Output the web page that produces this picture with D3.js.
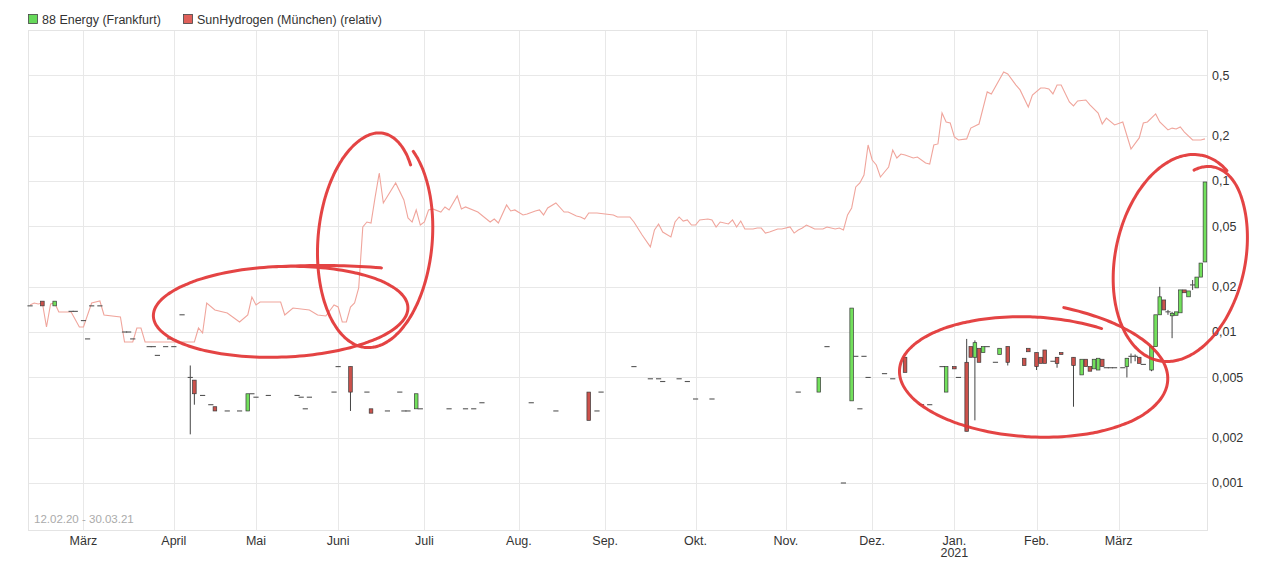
<!DOCTYPE html>
<html><head><meta charset="utf-8">
<script src="https://cdn.jsdelivr.net/npm/d3@7"></script>
<style>
body{margin:0;background:#fff}
svg{display:block}
text{font-family:"Liberation Sans",Arial,sans-serif}
</style>
</head><body>
<svg id="c" width="1280" height="563"></svg>
<script>
// ---------------- DATA ----------------
const seriesNames = ["88 Energy (Frankfurt)", "SunHydrogen (München) (relativ)"];
const rangeLabel = "12.02.20 - 30.03.21";
const startDate = "2020-02-12", endDate = "2021-03-30";
const holidays = ["2020-04-10","2020-04-13","2020-05-01","2020-06-01","2020-12-24","2020-12-25","2020-12-31","2021-01-01"];
const monthNames = ["Jan.","Feb.","März","April","Mai","Juni","Juli","Aug.","Sep.","Okt.","Nov.","Dez."];
const yTicks = [0.001, 0.002, 0.005, 0.01, 0.02, 0.05, 0.1, 0.2, 0.5];

// SunHydrogen (relative) closing line
const sunRelative = [
["2020-02-12",0.01509],["2020-02-13",0.01556],["2020-02-14",0.01532],["2020-02-17",0.01556],["2020-02-18",0.01079],
["2020-02-19",0.01532],["2020-02-20",0.01556],["2020-02-21",0.01357],["2020-02-26",0.01357],["2020-02-28",0.01079],
["2020-03-02",0.01079],["2020-03-04",0.01556],["2020-03-06",0.01604],["2020-03-09",0.01296],["2020-03-13",0.01257],
["2020-03-16",0.00859],["2020-03-18",0.00859],["2020-03-19",0.01063],["2020-03-20",0.01063],["2020-03-23",0.00859],
["2020-03-27",0.00859],["2020-04-02",0.00859],["2020-04-08",0.00859],["2020-04-09",0.01063],["2020-04-14",0.00985],
["2020-04-15",0.01556],["2020-04-17",0.01398],["2020-04-22",0.01336],["2020-04-27",0.01165],["2020-04-29",0.01296],
["2020-04-30",0.01705],["2020-05-04",0.01509],["2020-05-05",0.0158],["2020-05-12",0.0158],["2020-05-13",0.01296],
["2020-05-15",0.01442],["2020-05-21",0.01398],["2020-05-25",0.01296],["2020-05-27",0.01276],["2020-05-29",0.01509],
["2020-06-02",0.01464],["2020-06-03",0.01165],["2020-06-04",0.01165],["2020-06-05",0.01464],["2020-06-08",0.01556],
["2020-06-09",0.01956],["2020-06-10",0.0496],["2020-06-11",0.0535],["2020-06-12",0.0527],["2020-06-15",0.0783],
["2020-06-16",0.1130],["2020-06-17",0.0715],["2020-06-22",0.0970],["2020-06-24",0.0749],["2020-06-25",0.0569],
["2020-06-26",0.0535],["2020-06-29",0.0643],["2020-06-30",0.0511],["2020-07-01",0.0535],["2020-07-02",0.0643],
["2020-07-03",0.0653],["2020-07-07",0.0623],["2020-07-08",0.0673],["2020-07-09",0.0643],["2020-07-13",0.0796],
["2020-07-14",0.0653],["2020-07-15",0.0673],["2020-07-20",0.0623],["2020-07-23",0.0535],["2020-07-24",0.0560],
["2020-07-27",0.0527],["2020-07-29",0.0694],["2020-07-30",0.0633],["2020-07-31",0.0643],["2020-08-04",0.0596],
["2020-08-05",0.0605],["2020-08-07",0.0633],["2020-08-10",0.0643],["2020-08-11",0.0596],["2020-08-12",0.0663],
["2020-08-14",0.0715],["2020-08-18",0.0623],["2020-08-19",0.0623],["2020-08-21",0.0586],["2020-08-24",0.0578],
["2020-08-25",0.0560],["2020-08-26",0.0614],["2020-08-27",0.0614],["2020-08-28",0.0614],["2020-09-01",0.0605],
["2020-09-03",0.0596],["2020-09-04",0.0578],["2020-09-08",0.0578],["2020-09-09",0.0578],["2020-09-10",0.0535],
["2020-09-14",0.0439],["2020-09-16",0.0366],["2020-09-17",0.0474],["2020-09-18",0.0519],["2020-09-21",0.0459],
["2020-09-23",0.0426],["2020-09-24",0.0535],["2020-09-25",0.0578],["2020-09-28",0.0543],["2020-09-29",0.0552],
["2020-09-30",0.0511],["2020-10-01",0.0511],["2020-10-02",0.0552],["2020-10-06",0.0560],["2020-10-07",0.0552],
["2020-10-08",0.0496],["2020-10-09",0.0535],["2020-10-13",0.0519],["2020-10-14",0.0552],["2020-10-15",0.0496],
["2020-10-16",0.0543],["2020-10-19",0.0481],["2020-10-21",0.0481],["2020-10-22",0.0488],["2020-10-23",0.0488],
["2020-10-26",0.0452],["2020-10-27",0.0459],["2020-10-29",0.0481],["2020-10-30",0.0481],["2020-11-03",0.0496],
["2020-11-04",0.0452],["2020-11-05",0.0474],["2020-11-06",0.0488],["2020-11-09",0.0511],["2020-11-10",0.0496],
["2020-11-11",0.0481],["2020-11-13",0.0481],["2020-11-16",0.0496],["2020-11-18",0.0481],["2020-11-19",0.0488],
["2020-11-20",0.0474],["2020-11-23",0.0596],["2020-11-24",0.0663],["2020-11-25",0.0913],["2020-11-26",0.0970],
["2020-11-27",0.1096],["2020-11-30",0.1731],["2020-12-01",0.1378],["2020-12-02",0.1276],["2020-12-03",0.1063],
["2020-12-04",0.1147],["2020-12-07",0.1238],["2020-12-08",0.1604],["2020-12-09",0.1420],["2020-12-10",0.1509],
["2020-12-11",0.1487],["2020-12-15",0.1420],["2020-12-16",0.1442],["2020-12-18",0.1316],["2020-12-21",0.1296],
["2020-12-22",0.1731],["2020-12-23",0.176],["2020-12-28",0.282],["2020-12-29",0.246],["2020-12-30",0.242],
["2021-01-04",0.196],["2021-01-05",0.187],["2021-01-07",0.190],["2021-01-08",0.224],["2021-01-12",0.2385],
["2021-01-14",0.389],["2021-01-15",0.377],["2021-01-20",0.527],["2021-01-21",0.511],["2021-01-25",0.432],
["2021-01-26",0.401],["2021-01-28",0.309],["2021-01-29",0.371],["2021-02-02",0.413],["2021-02-03",0.413],
["2021-02-04",0.407],["2021-02-05",0.377],["2021-02-08",0.432],["2021-02-09",0.432],["2021-02-11",0.334],
["2021-02-12",0.314],["2021-02-15",0.339],["2021-02-17",0.344],["2021-02-18",0.319],["2021-02-22",0.282],
["2021-02-23",0.2385],["2021-02-24",0.261],["2021-02-26",0.235],["2021-03-02",0.246],["2021-03-04",0.163],
["2021-03-08",0.193],["2021-03-09",0.242],["2021-03-10",0.246],["2021-03-12",0.278],["2021-03-15",0.246],
["2021-03-17",0.218],["2021-03-18",0.224],["2021-03-19",0.221],["2021-03-22",0.228],["2021-03-23",0.211],
["2021-03-25",0.187],["2021-03-29",0.187],["2021-03-30",0.190]
];

// 88 Energy candles: date, open, high, low, close (null high/low = no wick)
const energyOHLC = [
["2020-02-12",0.0149,null,null,0.0149],["2020-02-17",0.0160,null,null,0.0149],["2020-02-20",0.0149,null,null,0.0160],
["2020-02-26",0.0137,null,null,0.0137],["2020-02-27",0.0137,null,null,0.0137],["2020-03-02",0.0119,null,null,0.0119],
["2020-03-03",0.0090,null,null,0.0090],["2020-03-04",0.0149,null,null,0.0149],["2020-03-06",0.0149,null,null,0.0149],
["2020-03-16",0.0100,null,null,0.0100],["2020-03-17",0.0100,null,null,0.0100],["2020-03-18",0.0090,null,null,0.0090],
["2020-03-24",0.0080,null,null,0.0080],["2020-03-25",0.0080,null,null,0.0080],["2020-03-26",0.0070,null,null,0.0070],
["2020-03-30",0.0080,null,null,0.0080],["2020-03-31",0.0090,null,null,0.0090],["2020-04-01",0.0080,null,null,0.0080],
["2020-04-03",0.0130,null,null,0.0130],["2020-04-07",0.0050,0.0060,0.0021,0.0050],["2020-04-08",0.0048,null,0.0033,0.0039],
["2020-04-14",0.0038,null,null,0.0038],["2020-04-16",0.0033,null,null,0.0033],["2020-04-17",0.0032,null,null,0.0030],
["2020-04-22",0.0030,null,null,0.0030],["2020-04-27",0.0030,null,null,0.0030],["2020-04-29",0.0030,null,null,0.0039],
["2020-04-30",0.0039,null,null,0.0039],["2020-05-04",0.0037,null,null,0.0037],["2020-05-07",0.0038,null,null,0.0038],
["2020-05-18",0.0038,null,null,0.0038],["2020-05-19",0.0037,null,null,0.0037],["2020-05-20",0.0031,null,null,0.0031],
["2020-05-21",0.0037,null,null,0.0037],["2020-05-29",0.0040,null,null,0.0040],["2020-06-02",0.0059,null,null,0.0059],
["2020-06-05",0.0059,null,0.0030,0.0040],["2020-06-11",0.0040,null,null,0.0040],["2020-06-12",0.0031,null,null,0.0029],
["2020-06-18",0.0030,null,null,0.0030],["2020-06-23",0.0040,null,null,0.0040],["2020-06-24",0.0030,null,null,0.0030],
["2020-06-25",0.0030,null,null,0.0030],["2020-06-29",0.0031,null,null,0.0039],["2020-06-30",0.0031,null,null,0.0031],
["2020-07-09",0.0031,null,null,0.0031],["2020-07-15",0.0031,null,null,0.0031],["2020-07-17",0.0031,null,null,0.0031],
["2020-07-21",0.0034,null,null,0.0034],["2020-08-06",0.0034,null,null,0.0034],["2020-08-14",0.0030,null,null,0.0030],
["2020-08-26",0.0040,null,null,0.0026],["2020-08-28",0.0030,null,null,0.0030],["2020-08-31",0.0040,null,null,0.0040],
["2020-09-10",0.0059,null,null,0.0059],["2020-09-16",0.0049,null,null,0.0049],["2020-09-18",0.0049,null,null,0.0049],
["2020-09-21",0.0047,null,null,0.0047],["2020-09-25",0.0049,null,null,0.0049],["2020-09-29",0.0047,null,null,0.0047],
["2020-10-01",0.0036,null,null,0.0036],["2020-10-07",0.0036,null,null,0.0036],["2020-11-05",0.0040,null,null,0.0040],
["2020-11-12",0.0040,null,null,0.0050],["2020-11-16",0.0080,null,null,0.0080],["2020-11-20",0.0010,null,null,0.0010],
["2020-11-24",0.0035,null,null,0.0144],["2020-11-25",0.0069,null,null,0.0069],["2020-11-26",0.0031,null,null,0.0031],
["2020-11-27",0.0069,null,null,0.0069],["2020-11-30",0.0050,null,null,0.0050],["2020-12-04",0.0053,null,null,0.0053],
["2020-12-08",0.0049,null,null,0.0049],["2020-12-11",0.0068,null,null,0.0054],["2020-12-17",0.0033,null,null,0.0033],
["2020-12-21",0.0033,null,null,0.0033],["2020-12-28",0.0059,null,null,0.0059],["2020-12-29",0.0040,null,null,0.0059],
["2021-01-04",0.0059,null,null,0.0057],["2021-01-05",0.0050,null,null,0.0050],["2021-01-07",0.0063,0.0090,null,0.0022],
["2021-01-08",0.0080,null,null,0.0068],["2021-01-11",0.0068,0.0088,0.0026,0.0085],["2021-01-12",0.0078,null,null,0.0063],
["2021-01-13",0.0073,null,null,0.0080],["2021-01-14",0.0080,null,null,0.0080],["2021-01-18",0.0063,null,null,0.0063],
["2021-01-19",0.0071,null,null,0.0078],["2021-01-21",0.0080,null,0.0060,0.0063],["2021-01-27",0.0067,null,null,0.0060],
["2021-01-28",0.0078,null,null,0.0074],["2021-02-01",0.0073,null,0.0056,0.0059],["2021-02-02",0.0068,null,null,0.0062],
["2021-02-03",0.0076,null,null,0.0062],["2021-02-05",0.0064,null,null,0.0064],["2021-02-08",0.0068,null,0.0058,0.0062],
["2021-02-09",0.0073,null,null,0.0071],["2021-02-12",0.0068,null,0.0032,0.0060],["2021-02-16",0.0052,null,null,0.0066],
["2021-02-17",0.0066,null,null,0.0059],["2021-02-18",0.0059,null,null,0.0055],["2021-02-19",0.0057,null,null,0.0066],
["2021-02-22",0.0056,null,null,0.0067],["2021-02-23",0.0066,null,null,0.0059],["2021-02-24",0.0058,null,null,0.0058],
["2021-02-25",0.0058,null,null,0.0058],["2021-02-26",0.0058,null,null,0.0058],["2021-03-02",0.0058,null,null,0.0058],
["2021-03-03",0.0059,null,0.0050,0.0067],["2021-03-04",0.0069,0.0072,0.0062,0.0069],["2021-03-05",0.0069,0.0071,0.0064,0.0069],
["2021-03-08",0.0068,null,null,0.0062],["2021-03-09",0.0061,null,null,0.0061],["2021-03-11",0.0056,null,0.0055,0.0080],
["2021-03-12",0.0080,null,null,0.0130],["2021-03-15",0.0130,0.0199,null,0.0171],["2021-03-16",0.0163,null,null,0.0140],
["2021-03-17",0.0136,0.0140,0.0130,0.0136],["2021-03-18",0.0128,0.0136,0.0091,0.0133],["2021-03-19",0.0129,null,null,0.0136],
["2021-03-22",0.0134,null,null,0.0190],["2021-03-23",0.0190,null,null,0.0182],["2021-03-24",0.0171,null,null,0.0187],
["2021-03-25",0.0205,0.0221,0.0190,0.0205],["2021-03-26",0.0196,null,null,0.0231],["2021-03-29",0.0231,null,null,0.0286],
["2021-03-30",0.0291,null,null,0.0985]
];

// Hand-drawn highlight loops: centre date & value, radii in trading days / decades,
// start angle & sweep (deg), radius offsets at the stroke's head / tail
const annotations = [
  {date:"2020-05-12", value:0.0136, rxDays:31,   ryDec:0.30,  rot:-2, start:-95, sweep:407, head:0,     headDeg:1,   tail:0.2,   tailDeg:45},
  {date:"2020-06-15", value:0.0407, rxDays:13.9, ryDec:0.715, rot:5,  start:-58, sweep:363, head:0,     headDeg:1,   tail:-0.12, tailDeg:50},
  {date:"2021-01-29", value:0.00504,rxDays:32.4, ryDec:0.397, rot:3,  start:-80, sweep:380, head:0.2,   headDeg:110, tail:0,     tailDeg:1},
  {date:"2021-03-22", value:0.0309, rxDays:15.8, ryDec:0.695, rot:12, start:-95, sweep:390, head:-0.15, headDeg:50,  tail:0,     tailDeg:1}
];

// ---------------- CHART ----------------
const parse = d3.utcParse("%Y-%m-%d"), fmt = d3.utcFormat("%Y-%m-%d");
const days = d3.utcDay.range(parse(startDate), d3.utcDay.offset(parse(endDate), 1))
  .filter(d => d.getUTCDay() % 6 !== 0 && !holidays.includes(fmt(d)));
const idx = new Map(days.map((d, i) => [fmt(d), i]));

const L = 28, R = 1207, T = 30, B = 530;
const x = d3.scaleLinear().domain([-0.5, days.length - 0.5]).range([L, R]);
const y = d3.scaleLog().domain([0.001, 1]).range([483, 30]);
const dayW = x(1) - x(0), decPx = y(0.01) - y(0.1);

const svg = d3.select("#c");
const grid = svg.append("g").attr("stroke", "#e8e8e8").attr("stroke-width", 1);

const monthStarts = days.map((d, i) => ({d, i})).filter(o => o.i > 0 && days[o.i - 1].getUTCMonth() !== o.d.getUTCMonth());
grid.selectAll("line.v").data(monthStarts).join("line")
  .attr("x1", o => Math.round(x(o.i)) + 0.5).attr("x2", o => Math.round(x(o.i)) + 0.5)
  .attr("y1", T).attr("y2", B);
grid.selectAll("line.h").data(yTicks).join("line").attr("class","h")
  .attr("x1", L).attr("x2", R).attr("y1", v => Math.round(y(v)) + 0.5).attr("y2", v => Math.round(y(v)) + 0.5);
svg.append("rect").attr("x", L + 0.5).attr("y", T + 0.5).attr("width", R - L).attr("height", B - T)
  .attr("fill", "none").attr("stroke", "#e4e4e4");

svg.append("g").selectAll("text").data(yTicks).join("text")
  .attr("x", R + 5).attr("y", v => y(v)).attr("dy", "0.35em")
  .attr("font-size", 12.5).attr("fill", "#333").text(v => String(v).replace(".", ","));
const xl = svg.append("g").attr("font-size", 12.5).attr("fill", "#333").attr("text-anchor", "middle");
xl.selectAll("text.m").data(monthStarts).join("text").attr("class","m")
  .attr("x", o => x(o.i)).attr("y", 545).text(o => monthNames[o.d.getUTCMonth()]);
xl.selectAll("text.yr").data(monthStarts.filter(o => o.d.getUTCMonth() === 0)).join("text").attr("class","yr")
  .attr("x", o => x(o.i)).attr("y", 557).text(o => o.d.getUTCFullYear());
svg.append("text").attr("x", 34).attr("y", 523).attr("font-size", 11.5).attr("fill", "#aaa").text(rangeLabel);

const legCols = ["#66d95a", "#e0605a"];
const lg = svg.append("g");
[0, 1].forEach(k => {
  const lx = k === 0 ? 28 : 183;
  lg.append("rect").attr("x", lx + 0.5).attr("y", 14.5).attr("width", 9).attr("height", 9)
    .attr("fill", legCols[k]).attr("stroke", "#444").attr("stroke-width", 0.8);
  lg.append("text").attr("x", lx + 14).attr("y", 24).attr("font-size", 12.5).attr("fill", "#333").text(seriesNames[k]);
});

svg.append("path").datum(sunRelative)
  .attr("fill", "none").attr("stroke", "#f0a59c").attr("stroke-width", 1.1)
  .attr("d", d3.line().x(d => x(idx.get(d[0]))).y(d => y(d[1])));

const cg = svg.append("g");
energyOHLC.forEach(([dt, o, h, l, c]) => {
  const cx = x(idx.get(dt));
  const hi = h == null ? Math.max(o, c) : h, lo = l == null ? Math.min(o, c) : l;
  if (hi > Math.max(o, c) || lo < Math.min(o, c)) {
    cg.append("line").attr("x1", cx).attr("x2", cx).attr("y1", y(hi)).attr("y2", y(lo))
      .attr("stroke", "#444").attr("stroke-width", 1);
  }
  if (o === c) {
    cg.append("line").attr("x1", cx - 2.6).attr("x2", cx + 2.6).attr("y1", y(o)).attr("y2", y(o))
      .attr("stroke", "#555").attr("stroke-width", 1.1);
  } else {
    const top = y(Math.max(o, c)), bot = y(Math.min(o, c));
    cg.append("rect").attr("x", cx - 1.8).attr("y", top).attr("width", 3.6).attr("height", Math.max(1, bot - top))
      .attr("fill", c > o ? "#72e05c" : "#cc514b").attr("stroke", "#3a3a3a").attr("stroke-width", 0.7);
  }
});

const ag = svg.append("g").attr("fill", "none").attr("stroke", "#e23434").attr("stroke-width", 3)
  .attr("stroke-linecap", "round").attr("opacity", 0.92);
annotations.forEach(a => {
  const cx = x(idx.get(a.date)), cy = y(a.value);
  const rx = a.rxDays * dayW, ry = a.ryDec * decPx, ph = a.rot * Math.PI / 180;
  const n = 200;
  const pts = d3.range(n + 1).map(j => {
    const s = a.sweep * j / n, e = a.sweep - s;
    const th = (a.start + s) * Math.PI / 180;
    const r = 1 + a.head * Math.pow(Math.max(0, 1 - s / a.headDeg), 2)
                + a.tail * Math.pow(Math.max(0, 1 - e / a.tailDeg), 2);
    const ex = r * rx * Math.cos(th), ey = r * ry * Math.sin(th);
    return [cx + ex * Math.cos(ph) - ey * Math.sin(ph), cy + ex * Math.sin(ph) + ey * Math.cos(ph)];
  });
  ag.append("path").attr("d", d3.line().curve(d3.curveBasis)(pts));
});
</script>
</body></html>
